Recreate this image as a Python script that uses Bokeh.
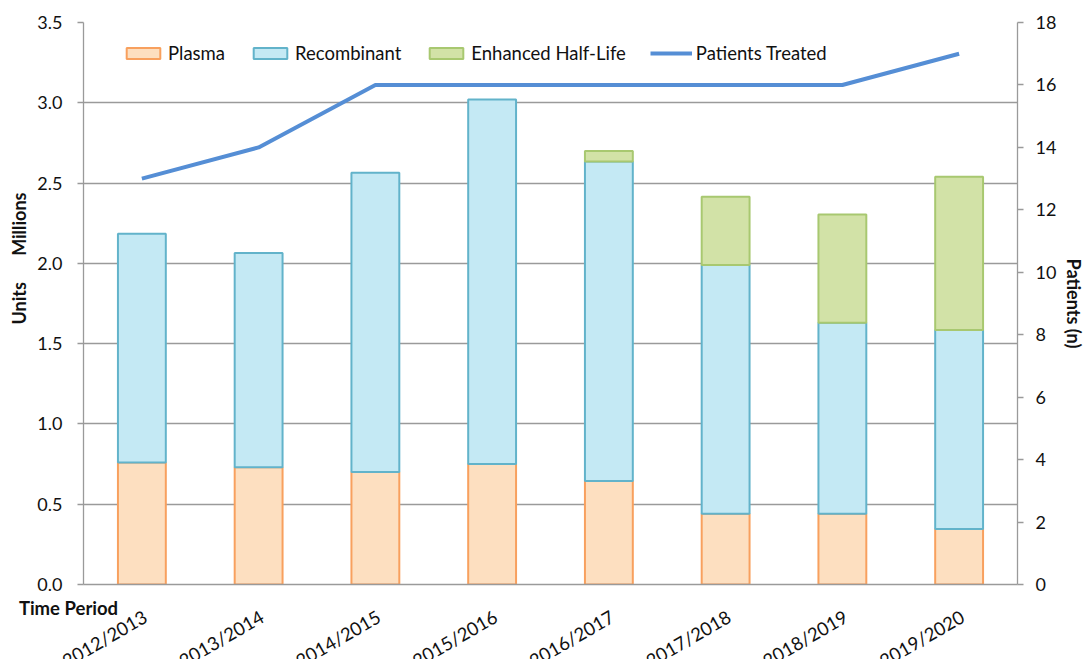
import math
from bokeh.plotting import figure
from bokeh.layouts import column
from bokeh.models import (FactorRange, Range1d, LinearAxis, Label, Legend,
                          FixedTicker, CustomJSTickFormatter, ColumnDataSource)
from bokeh.core.properties import value
from bokeh.embed import file_html
from bokeh.resources import INLINE

# Factor usage by product type (millions of units) and patients treated
periods = ["2012/2013", "2013/2014", "2014/2015", "2015/2016",
           "2016/2017", "2017/2018", "2018/2019", "2019/2020"]
plasma = [0.76, 0.73, 0.70, 0.75, 0.645, 0.44, 0.44, 0.345]
recombinant = [1.425, 1.335, 1.865, 2.27, 1.99, 1.55, 1.19, 1.24]
enhanced_half_life = [0.0, 0.0, 0.0, 0.0, 0.065, 0.425, 0.675, 0.955]
patients_treated = [13, 14, 16, 16, 16, 16, 16, 17]

FONT = "Lato"
GRID = "#9a9a9a"
TEXT = "#111111"
W, LEFT, RIGHT = 1089, 83, 72
TOP_H, STRIP_H = 596, 63

p = figure(
    x_range=FactorRange(factors=periods, range_padding=0),
    y_range=Range1d(0, 3.5),
    width=W, height=TOP_H,
    output_backend="svg", toolbar_location=None,
    min_border_left=LEFT, min_border_right=RIGHT,
    min_border_top=22, min_border_bottom=12,
)
p.frame_align = False
p.extra_y_ranges = {"patients": Range1d(0, 18)}

data = dict(period=periods, plasma=plasma, recombinant=recombinant)
bars = p.vbar_stack(
    ["plasma", "recombinant"], x="period", width=0.41, source=data,
    fill_color=["#fddfc0", "#c4e9f4"],
    line_color=["#f8a05e", "#62b3ca"],
    line_width=2,
)

# Enhanced half-life segments sit on top of the other two; empty years skipped
ehl_idx = [i for i, v in enumerate(enhanced_half_life) if v > 0]
ehl_src = ColumnDataSource(dict(
    period=[periods[i] for i in ehl_idx],
    bottom=[plasma[i] + recombinant[i] for i in ehl_idx],
    top=[plasma[i] + recombinant[i] + enhanced_half_life[i] for i in ehl_idx],
))
ehl = p.vbar(x="period", bottom="bottom", top="top", width=0.41, source=ehl_src,
             fill_color="#d2e2a7", line_color="#a8c870", line_width=2)

line = p.line(periods, patients_treated, y_range_name="patients",
              line_color="#558ed5", line_width=4)

# Axes
p.xgrid.grid_line_color = None
p.ygrid.grid_line_color = GRID
p.ygrid.grid_line_width = 1.3
p.yaxis.ticker = FixedTicker(ticks=[0, 0.5, 1.0, 1.5, 2.0, 2.5, 3.0, 3.5])
p.yaxis.formatter = CustomJSTickFormatter(code="return tick.toFixed(1);")

right = LinearAxis(y_range_name="patients",
                   ticker=FixedTicker(ticks=list(range(0, 19, 2))),
                   axis_label="Patients (n)")
p.add_layout(right, "right")

for ax in (p.yaxis[0], right):
    ax.axis_line_color = GRID
    ax.axis_line_width = 1.3
    ax.major_tick_line_color = GRID
    ax.major_tick_line_width = 1.3
    ax.major_tick_out = 6
    ax.major_tick_in = 0
    ax.minor_tick_line_color = None
    ax.major_label_text_font = FONT
    ax.major_label_text_font_size = "18px"
    ax.major_label_text_color = TEXT
    ax.major_label_standoff = 15
right.major_label_standoff = 12

right.axis_label_text_font = FONT
right.axis_label_text_font_style = "bold"
right.axis_label_text_font_size = "18px"
right.axis_label_text_color = TEXT
right.axis_label_standoff = 4

# Category axis: only the baseline here, its labels sit in the strip below
xa = p.xaxis[0]
xa.axis_line_color = GRID
xa.axis_line_width = 1.3
xa.major_tick_line_color = None
xa.minor_tick_line_color = None
xa.major_label_text_font_size = "1px"
xa.major_label_text_alpha = 0
xa.major_label_standoff = 0

p.outline_line_color = None

# Left axis title (units + display scale), placed in the left side panel
gap = "\u00a0" * 6
p.add_layout(Label(x=6, y=326, x_units="screen", y_units="screen",
                   text="Units" + gap + "Millions", angle=math.pi / 2,
                   text_align="center", text_baseline="middle",
                   text_font=FONT, text_font_style="bold",
                   text_font_size="18px", text_color=TEXT), "left")

legend = Legend(items=[
    ("Plasma", [bars[0]]),
    ("Recombinant", [bars[1]]),
    ("Enhanced Half-Life", [ehl]),
    ("Patients Treated", [line]),
], orientation="horizontal", location=(39, 520),
    border_line_color=None, background_fill_alpha=0,
    padding=0, margin=0, spacing=24, label_standoff=4,
    glyph_width=42, glyph_height=14,
    label_text_font=FONT, label_text_font_size="18.5px",
    label_text_color=TEXT)
p.add_layout(legend)

# Strip under the chart: category labels on the same horizontal scale
band = (W - LEFT - RIGHT) / len(periods)
strip = figure(
    x_range=Range1d(-LEFT / band, len(periods) + RIGHT / band),
    y_range=Range1d(-STRIP_H, 0),
    width=W, height=STRIP_H,
    output_backend="svg", toolbar_location=None,
    min_border=0,
)
strip.frame_align = False
strip.axis.visible = False
strip.grid.grid_line_color = None
strip.outline_line_color = None

strip.text(x=[i + 0.5 for i in range(len(periods))], y=-9, text=periods,
           angle=math.pi / 6, text_align="right", text_baseline="top",
           x_offset=-2, text_font=value(FONT), text_font_size="18.5px",
           text_color=TEXT)
strip.add_layout(Label(x=68, y=STRIP_H - 11, x_units="screen", y_units="screen",
                       text="Time Period", text_align="center",
                       text_baseline="middle", text_font=FONT,
                       text_font_style="bold", text_font_size="18.5px",
                       text_color=TEXT))

layout = column(p, strip, spacing=0)
open("out.html", "w").write(file_html(layout, INLINE))
